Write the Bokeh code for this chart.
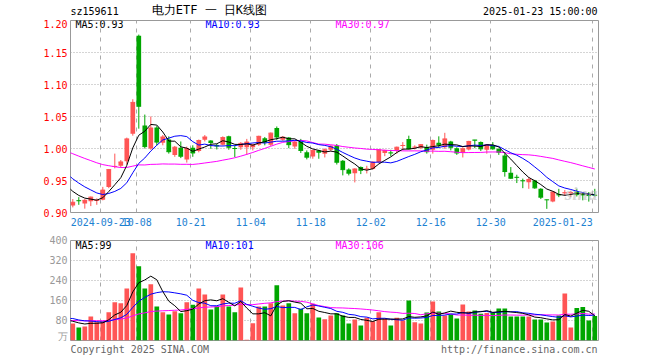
from bokeh.plotting import figure
from bokeh.layouts import column
from bokeh.models import FixedTicker, PrintfTickFormatter, Label, Range1d
from bokeh.embed import file_html
from bokeh.resources import INLINE

# ---------------- data ----------------
dates = [
    "2024-09-12", "2024-09-13", "2024-09-18", "2024-09-19", "2024-09-20", "2024-09-23",
    "2024-09-24", "2024-09-25", "2024-09-26", "2024-09-27", "2024-09-30",
    "2024-10-08", "2024-10-09", "2024-10-10", "2024-10-11", "2024-10-14", "2024-10-15",
    "2024-10-16", "2024-10-17", "2024-10-18", "2024-10-21", "2024-10-22", "2024-10-23",
    "2024-10-24", "2024-10-25", "2024-10-28", "2024-10-29", "2024-10-30", "2024-10-31",
    "2024-11-01", "2024-11-04", "2024-11-05", "2024-11-06", "2024-11-07", "2024-11-08",
    "2024-11-11", "2024-11-12", "2024-11-13", "2024-11-14", "2024-11-15", "2024-11-18",
    "2024-11-19", "2024-11-20", "2024-11-21", "2024-11-22", "2024-11-25", "2024-11-26",
    "2024-11-27", "2024-11-28", "2024-11-29",
    "2024-12-02", "2024-12-03", "2024-12-04", "2024-12-05", "2024-12-06", "2024-12-09",
    "2024-12-10", "2024-12-11", "2024-12-12", "2024-12-13", "2024-12-16", "2024-12-17",
    "2024-12-18", "2024-12-19", "2024-12-20", "2024-12-23", "2024-12-24", "2024-12-25",
    "2024-12-26", "2024-12-27", "2024-12-30", "2024-12-31",
    "2025-01-02", "2025-01-03", "2025-01-06", "2025-01-07", "2025-01-08", "2025-01-09",
    "2025-01-10", "2025-01-13", "2025-01-14", "2025-01-15", "2025-01-16", "2025-01-17",
    "2025-01-20", "2025-01-21", "2025-01-22", "2025-01-23",
]

open_p = [
    0.911, 0.9188, 0.914, 0.9175, 0.918, 0.920, 0.940, 0.971, 0.973, 0.980, 1.023,
    1.176, 1.036, 1.000, 1.033, 1.009, 1.014, 0.990, 1.001, 0.983, 1.001, 0.996, 1.0135,
    1.0125, 1.005, 1.006, 1.019, 1.0005, 1.002,
    1.002, 1.002, 1.006, 1.016, 1.006, 1.032, 1.0135, 1.017, 1.003, 1.010, 0.9943, 0.9875,
    0.997, 0.9917, 0.998, 1.0047, 0.981, 0.967, 0.9615, 0.971, 0.9675,
    0.968, 0.9786, 0.993, 0.9935, 0.997, 1.004, 1.015, 1.002, 1.001, 1.002, 0.998, 1.009,
    1.002, 1.011, 1.0005, 0.993, 0.9985, 1.0135, 1.010, 0.998, 1.0047, 0.9995,
    0.989, 0.962, 0.9555, 0.950, 0.9474, 0.950, 0.937, 0.920, 0.917, 0.928, 0.930, 0.930,
    0.933, 0.928, 0.9275, 0.9275,
]
high_p = [
    0.921, 0.924, 0.921, 0.925, 0.922, 0.940, 0.968, 0.992, 0.982, 1.017, 1.077,
    1.178, 1.053, 1.050, 1.035, 1.021, 1.019, 1.004, 1.011, 1.003, 1.005, 1.014, 1.021,
    1.013, 1.007, 1.019, 1.020, 1.005, 1.010,
    1.015, 1.0073, 1.020, 1.018, 1.025, 1.0344, 1.019, 1.018, 1.012, 1.015, 0.997, 0.998,
    0.998, 1.000, 1.005, 1.007, 0.982, 0.969, 0.969, 0.972, 0.973,
    0.980, 0.999, 0.998, 0.998, 1.003, 1.010, 1.020, 1.005, 1.007, 1.006, 1.014, 1.019,
    1.0245, 1.012, 1.002, 1.002, 1.012, 1.0135, 1.011, 1.007, 1.010, 1.000,
    0.9943, 0.971, 0.959, 0.953, 0.9547, 0.951, 0.938, 0.9203, 0.933, 0.937, 0.935, 0.934,
    0.937, 0.932, 0.932, 0.937,
]
low_p = [
    0.908, 0.912, 0.906, 0.910, 0.912, 0.919, 0.938, 0.969, 0.970, 0.975, 1.020,
    1.031, 1.000, 0.998, 1.005, 1.005, 0.992, 0.987, 0.985, 0.978, 0.987, 0.994, 1.011,
    0.9995, 0.9985, 1.0047, 0.998, 0.9865, 0.998,
    0.990, 0.997, 1.004, 1.005, 1.004, 1.0135, 1.012, 1.0005, 0.9995, 0.993, 0.983, 0.984,
    0.984, 0.986, 0.996, 0.975, 0.958, 0.958, 0.947, 0.960, 0.961,
    0.967, 0.977, 0.988, 0.988, 0.992, 0.997, 0.9985, 0.9985, 0.999, 0.992, 0.992, 1.0005,
    0.9995, 0.997, 0.990, 0.986, 0.997, 1.0005, 0.996, 0.992, 0.998, 0.990,
    0.956, 0.9526, 0.946, 0.938, 0.937, 0.937, 0.921, 0.9057, 0.916, 0.924, 0.926, 0.924,
    0.925, 0.919, 0.917, 0.925,
]
close_p = [
    0.916, 0.9184, 0.919, 0.924, 0.919, 0.935, 0.967, 0.972, 0.979, 1.015, 1.072,
    1.066, 1.003, 1.032, 1.010, 1.018, 0.995, 1.002, 0.988, 1.000, 0.993, 1.0125, 1.018,
    1.0094, 1.004, 1.017, 1.002, 1.000, 1.008,
    1.010, 1.0057, 1.019, 1.010, 1.024, 1.018, 1.0177, 1.006, 1.010, 0.997, 0.9865, 0.997,
    0.9943, 0.998, 1.0036, 0.9786, 0.967, 0.9615, 0.968, 0.966, 0.968,
    0.9786, 0.998, 0.9969, 0.993, 1.002, 1.0047, 0.9995, 1.0022, 1.006, 0.995, 1.0125, 1.0057,
    1.015, 1.002, 0.993, 0.9995, 1.011, 1.013, 0.9995, 1.0057, 0.9995, 0.9943,
    0.964, 0.9536, 0.955, 0.9495, 0.9515, 0.9385, 0.924, 0.9198, 0.932, 0.9275, 0.931, 0.931,
    0.928, 0.9275, 0.9265, 0.927,
]
# volume, 10k units
volume = [
    68, 52, 56, 96, 73, 77, 113, 153, 149, 208, 349,
    297, 208, 225, 136, 113, 104, 117, 109, 153, 143, 208, 184,
    124, 136, 184, 136, 113, 212,
    3, 69, 136, 136, 149, 221, 140, 149, 109, 127, 109, 147,
    92, 85, 100, 109, 100, 68, 84, 60, 91,
    77, 113, 87, 60, 91, 80, 160, 73, 68, 112, 156, 116,
    100, 104, 88, 144, 116, 120, 107, 110, 110, 128,
    128, 96, 96, 96, 96, 84, 84, 72, 76, 100, 188, 52,
    130, 134, 80, 98,
]
# sessions before the visible window (only feed the moving averages)
prior_close = [
    1.032, 1.030, 1.028, 1.025, 1.022, 1.020, 1.018, 1.020, 1.016, 1.012, 1.010,
    1.008, 1.006, 1.005, 1.004, 1.003, 1.002, 1.001, 1.000, 0.999, 0.999,
    0.985, 0.978, 0.972, 0.966, 0.960, 0.950, 0.940, 0.932, 0.927,
]
prior_volume = [
    75, 72, 78, 70, 80, 75, 82, 74, 68, 79, 85,
    73, 77, 71, 80, 76, 74, 82, 78, 75, 71,
    110, 92, 105, 96, 92, 85, 78, 82, 72,
]

tick_dates = ["2024-09-23", "2024-10-08", "2024-10-21", "2024-11-04", "2024-11-18",
              "2024-12-02", "2024-12-16", "2024-12-30", "2025-01-23"]
tick_labels = ["2024-09-23", "10-08", "10-21", "11-04", "11-18",
               "12-02", "12-16", "12-30", "2025-01-23"]
price_ticks = [0.90, 0.95, 1.00, 1.05, 1.10, 1.15, 1.20]
price_grid = [0.95, 1.00, 1.05, 1.10, 1.15]
volume_ticks = [0, 80, 160, 240, 320, 400]
volume_tick_labels = ["万", "80", "160", "240", "320", "400"]
volume_grid = [80, 160, 240, 320]

title_code = "sz159611"
title_name = "电力ETF 一 日K线图"
title_time = "2025-01-23 15:00:00"
price_ma_text = ["MA5:0.93", "MA10:0.93", "MA30:0.97"]
volume_ma_text = ["MA5:99", "MA10:101", "MA30:106"]
footer_left = "Copyright 2025 SINA.COM"
footer_right = "http://finance.sina.com.cn"

# ---------------- helpers ----------------
RED = "#ff5555"
GREEN = "#00a600"
MA_COLORS = ["#000000", "#0000ff", "#ff00ff"]
MONO = "DejaVu Sans Mono"
DATE_BLUE = "#1e82d2"
OFF = 1.0 / 3.0      # candle centre sits right of its date grid line
FRAME_W = 528
LEFT_B, RIGHT_B = 70, 54
X0 = -0.05
X1 = X0 + FRAME_W / 6.0

N = len(close_p)
cx = [i + OFF for i in range(N)]
up = [c >= o for o, c in zip(open_p, close_p)]
colors = [RED if u else GREEN for u in up]
tops = [max(o, c) for o, c in zip(open_p, close_p)]
bots = [min(o, c) for o, c in zip(open_p, close_p)]
tick_idx = [dates.index(d) for d in tick_dates]
# the last date label is drawn right-aligned to its grid line (5 sessions = its half width)
label_pos = tick_idx[:-1] + [tick_idx[-1] - 5]


def moving_average(prior, values, n):
    full = prior + values
    k = len(prior)
    xs, ys = [], []
    for j in range(k - 1, len(full)):
        xs.append(j - k + OFF)
        ys.append(sum(full[j - n + 1:j + 1]) / n)
    return xs, ys


x_range = Range1d(X0, X1)


def strip(height):
    f = figure(frame_width=FRAME_W, frame_height=height, x_range=x_range,
               y_range=Range1d(0, height), output_backend="svg", toolbar_location=None,
               x_axis_location=None, y_axis_location=None,
               min_border_left=LEFT_B, min_border_right=RIGHT_B,
               min_border_top=0, min_border_bottom=0)
    f.outline_line_color = None
    f.grid.visible = False
    f.background_fill_color = "white"
    f.border_fill_color = "white"
    return f


def style_common(p):
    p.outline_line_color = "#999999"
    p.background_fill_color = "white"
    p.border_fill_color = "white"
    p.xgrid.ticker = FixedTicker(ticks=tick_idx)
    p.xgrid.grid_line_color = "#aaaaaa"
    p.xgrid.grid_line_dash = "4 5"
    p.ygrid.grid_line_color = "#aaaaaa"
    p.ygrid.grid_line_dash = "1 2"
    ax = p.yaxis[0]
    ax.axis_line_color = None
    ax.major_tick_line_color = None
    ax.minor_tick_line_color = None
    ax.major_tick_in = 0
    ax.major_tick_out = 0
    ax.minor_tick_out = 0
    ax.major_label_standoff = 3
    ax.major_label_text_font = MONO
    ax.major_label_text_font_size = "10px"


# ---------------- header ----------------
head = strip(19)
head.add_layout(Label(x=X0, y=2.4, text=title_code, text_font=MONO,
                      text_font_size="10px", text_color="#000000", text_align="left"))
head.add_layout(Label(x=23.1, y=2.2, text=title_name, text_font=MONO,
                      text_font_size="12px", text_color="#000000", text_align="center"))
head.add_layout(Label(x=87.78, y=2.4, text=title_time, text_font=MONO,
                      text_font_size="10px", text_color="#000000", text_align="right"))

# ---------------- price panel ----------------
p1 = figure(frame_width=FRAME_W, frame_height=192, x_range=x_range,
            y_range=Range1d(0.90, 1.20), output_backend="svg", toolbar_location=None,
            min_border_left=LEFT_B, min_border_right=RIGHT_B, min_border_top=1,
            min_border_bottom=20)
style_common(p1)
p1.ygrid.ticker = FixedTicker(ticks=price_grid)
p1.yaxis.ticker = FixedTicker(ticks=price_ticks)
p1.yaxis.formatter = PrintfTickFormatter(format="%.2f")
p1.yaxis.major_label_text_color = "#ff0000"

xa = p1.xaxis[0]
xa.ticker = FixedTicker(ticks=label_pos)
xa.major_label_overrides = {t: l for t, l in zip(label_pos, tick_labels)}
xa.axis_line_color = None
xa.major_tick_line_color = None
xa.minor_tick_line_color = None
xa.major_tick_in = 0
xa.major_tick_out = 0
xa.minor_tick_out = 0
xa.major_label_standoff = 5
xa.major_label_text_font = MONO
xa.major_label_text_font_size = "10px"
xa.major_label_text_color = DATE_BLUE

p1.segment(x0=cx, y0=low_p, x1=cx, y1=high_p, color=colors, line_width=1)
p1.vbar(x=cx, width=0.78, top=tops, bottom=bots, fill_color=colors, line_color=None)
p1.segment(x0=[x - 0.39 for x in cx], y0=close_p, x1=[x + 0.39 for x in cx], y1=close_p,
           color=colors, line_width=1)

for n, col in zip([30, 10, 5], [MA_COLORS[2], MA_COLORS[1], MA_COLORS[0]]):
    mx, my = moving_average(prior_close, close_p, n)
    p1.line(mx, my, color=col, line_width=1)

p1.add_layout(Label(x=87.78, y=0.914, text="sina", text_font="Verdana",
                    text_font_style="bold italic", text_font_size="19px",
                    text_color="#bbbbbb", text_alpha=0.6, text_align="right"))
for t, xp, col in zip(price_ma_text, [0.78, 22.45, 44.12], MA_COLORS):
    p1.add_layout(Label(x=xp, y=1.1852, text=t, text_font=MONO, text_font_size="10px",
                        text_color=col, text_align="left"))

# ---------------- volume panel ----------------
p2 = figure(frame_width=FRAME_W, frame_height=100, x_range=x_range,
            y_range=Range1d(0, 400), output_backend="svg", toolbar_location=None,
            min_border_left=LEFT_B, min_border_right=RIGHT_B, min_border_top=8,
            min_border_bottom=1)
style_common(p2)
p2.ygrid.ticker = FixedTicker(ticks=volume_grid)
p2.yaxis.ticker = FixedTicker(ticks=volume_ticks)
p2.yaxis.major_label_overrides = {t: l for t, l in zip(volume_ticks, volume_tick_labels)}
p2.yaxis.major_label_text_color = "#999999"
p2.xaxis.visible = False

p2.vbar(x=cx, width=0.78, top=volume, bottom=0, fill_color=colors, line_color=None)
for n, col in zip([30, 10, 5], [MA_COLORS[2], MA_COLORS[1], MA_COLORS[0]]):
    mx, my = moving_average(prior_volume, volume, n)
    p2.line(mx, my, color=col, line_width=1)

for t, xp, col in zip(volume_ma_text, [0.78, 22.45, 44.12], MA_COLORS):
    p2.add_layout(Label(x=xp, y=358, text=t, text_font=MONO, text_font_size="10px",
                        text_color=col, text_align="left"))

# ---------------- footer ----------------
foot = strip(16)
foot.add_layout(Label(x=X0, y=8.0, text=footer_left, text_font=MONO,
                      text_font_size="10px", text_color="#666666", text_align="left",
                      text_baseline="alphabetic"))
foot.add_layout(Label(x=87.78, y=8.0, text=footer_right, text_font=MONO,
                      text_font_size="10px", text_color="#666666", text_align="right",
                      text_baseline="alphabetic"))

layout = column(head, p1, p2, foot, spacing=0)
open("out.html", "w").write(file_html(layout, INLINE))
